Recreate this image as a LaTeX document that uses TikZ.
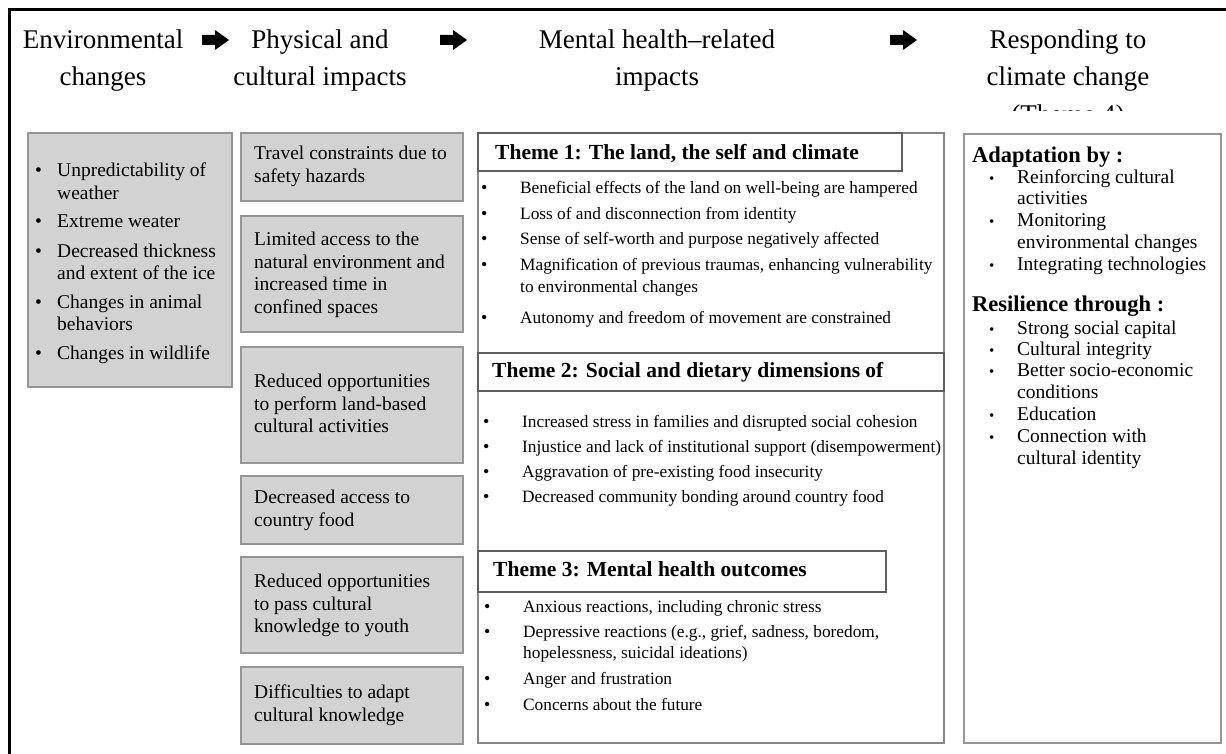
\documentclass[tikz,border=0pt]{standalone}
\usepackage{fontspec}
\setmainfont{Liberation Serif}
\definecolor{boxfill}{RGB}{210,210,210}
\definecolor{boxedge}{RGB}{150,150,150}
\definecolor{thmedge}{RGB}{95,95,95}
\definecolor{outedge}{RGB}{135,135,135}
\newcommand\blkarrow[1]{\fill[black] (#1) ++(0,-5) -- ++(13,0) -- ++(0,-5) -- ++(14,10) -- ++(-14,10) -- ++(0,-5) -- ++(-13,0) -- cycle;}
\begin{document}
\begin{tikzpicture}[x=1pt,y=-1pt,
  hd/.style={anchor=base, inner sep=0, font=\fontsize{27}{32}\selectfont},
  bt/.style={anchor=base west, inner sep=0, font=\fontsize{19.5}{22}\selectfont},
  bul/.style={anchor=base west, inner sep=0, font=\fontsize{19.5}{22}\selectfont},
  tt/.style={anchor=base west, inner sep=0, font=\fontsize{17.3}{20}\selectfont},
  tbul/.style={anchor=base west, inner sep=0, font=\fontsize{18}{20}\selectfont},
  rbul/.style={anchor=base west, inner sep=0, font=\fontsize{15}{20}\selectfont},
  bh/.style={anchor=base west, inner sep=0, font=\fontsize{21.5}{24}\selectfont\bfseries},
  rh/.style={anchor=base west, inner sep=0, font=\fontsize{22.5}{24}\selectfont\bfseries},
  graybox/.style={draw=boxedge, fill=boxfill, line width=1.6pt, anchor=north west, inner sep=0},
  whitebox/.style={draw=outedge, fill=white, line width=1.6pt, anchor=north west, inner sep=0},
  thmbox/.style={draw=thmedge, fill=white, line width=1.6pt, anchor=north west, inner sep=0}]
\useasboundingbox (0,0) rectangle (1226,754);
% outer frame
\draw[line width=3pt] (9,754) -- (9,10) -- (1226,10);
% headers
\node[hd] (h1a) at (103,49) {Environmental};
\node[hd] (h1b) at (103,86) {changes};
\node[hd] (h2a) at (320,49) {Physical and};
\node[hd] (h2b) at (320,86) {cultural impacts};
\node[hd] (h3a) at (657,49) {Mental health–related};
\node[hd] (h3b) at (657,86) {impacts};
\node[hd] (h4a) at (1068,49) {Responding to};
\node[hd] (h4b) at (1068,86) {climate change};
\begin{scope}
\clip (900,90) rectangle (1226,111);
\node[hd] (h4c) at (1068,124) {(Theme 4)};
\end{scope}
\coordinate (a1) at (202,40);
\coordinate (a2) at (440,40);
\coordinate (a3) at (890,40);
\blkarrow{a1}
\blkarrow{a2}
\blkarrow{a3}
% left box
\node[graybox, minimum width=204pt, minimum height=254pt] (env) at (27,132) {};
\foreach \y/\t [count=\i] in {177/{Unpredictability of}, 200/{weather}, 228/{Extreme weater}, 257/{Decreased thickness}, 279/{and extent of the ice}, 308/{Changes in animal}, 330/{behaviors}, 359/{Changes in wildlife}}
  \node[bt] (e\i) at (57,\y) {\t};
\foreach \y [count=\i] in {177,228,257,308,359}
  \node[bul] (eb\i) at (35,\y) {•};
% middle gray boxes
\node[graybox, minimum width=222pt, minimum height=68pt] (p1) at (240,132) {};
\node[graybox, minimum width=222pt, minimum height=116pt] (p2) at (240,215) {};
\node[graybox, minimum width=222pt, minimum height=116pt] (p3) at (240,346) {};
\node[graybox, minimum width=222pt, minimum height=68pt] (p4) at (240,475) {};
\node[graybox, minimum width=222pt, minimum height=96pt] (p5) at (240,556) {};
\node[graybox, minimum width=222pt, minimum height=77pt] (p6) at (240,666) {};
\foreach \y/\t [count=\i] in {160/{Travel constraints due to}, 183/{safety hazards},
  245/{Limited access to the}, 268/{natural environment and}, 290/{increased time in}, 313/{confined spaces},
  387/{Reduced opportunities}, 410/{to perform land-based}, 432/{cultural activities},
  503/{Decreased access to}, 526/{country food},
  587/{Reduced opportunities}, 610/{to pass cultural}, 632/{knowledge to youth},
  698/{Difficulties to adapt}, 721/{cultural knowledge}}
  \node[bt] (pt\i) at (254,\y) {\t};
% mental health box
\node[whitebox, minimum width=466pt, minimum height=610pt] (mh) at (477,132) {};
\node[thmbox, minimum width=424pt, minimum height=38pt] (t1) at (477,132) {};
\node[thmbox, minimum width=466pt, minimum height=38pt] (t2) at (477,352) {};
\node[thmbox, minimum width=408pt, minimum height=41pt] (t3) at (477,550) {};
\node[bh] (t1t) at (495,160) {Theme 1: The land, the self and climate};
\node[bh] (t2t) at (492,377) {Theme 2: Social and dietary dimensions of};
\node[bh] (t3t) at (493,576) {Theme 3: Mental health outcomes};
\foreach \y/\t [count=\i] in {194/{Beneficial effects of the land on well-being are hampered}, 219/{Loss of and disconnection from identity}, 244/{Sense of self-worth and purpose negatively affected}, 270/{Magnification of previous traumas, enhancing vulnerability}, 292/{to environmental changes}, 323/{Autonomy and freedom of movement are constrained}}
  \node[tt] (a\i) at (520,\y) {\t};
\foreach \y [count=\i] in {194,219,244,270,323}
  \node[tbul] (ab\i) at (481,\y) {•};
\foreach \y/\t [count=\i] in {427/{Increased stress in families and disrupted social cohesion}, 452/{Injustice and lack of institutional support (disempowerment)}, 477/{Aggravation of pre-existing food insecurity}, 502/{Decreased community bonding around country food}}
  \node[tt] (b\i) at (522,\y) {\t};
\foreach \y [count=\i] in {427,452,477,502}
  \node[tbul] (bb\i) at (483,\y) {•};
\foreach \y/\t [count=\i] in {612/{Anxious reactions, including chronic stress}, 637/{Depressive reactions (e.g., grief, sadness, boredom,}, 658/{hopelessness, suicidal ideations)}, 684/{Anger and frustration}, 710/{Concerns about the future}}
  \node[tt] (c\i) at (523,\y) {\t};
\foreach \y [count=\i] in {612,637,684,710}
  \node[tbul] (cb\i) at (484,\y) {•};
% right box
\node[whitebox, draw=boxedge, minimum width=257pt, minimum height=609pt] (rc) at (963,133) {};
\node[rh] (ad) at (972,163) {Adaptation by :};
\node[rh] (rs) at (972,311) {Resilience through :};
\foreach \y/\t [count=\i] in {184/{Reinforcing cultural}, 205/{activities}, 226/{Monitoring}, 248/{environmental changes}, 270/{Integrating technologies},
  334/{Strong social capital}, 355/{Cultural integrity}, 376/{Better socio-economic}, 398/{conditions}, 420/{Education}, 442/{Connection with}, 464/{cultural identity}}
  \node[bt] (r\i) at (1017,\y) {\t};
\foreach \y [count=\i] in {184,226,270,334,355,376,420,442}
  \node[rbul] (rb\i) at (989,\y) {•};
\end{tikzpicture}
\end{document}
